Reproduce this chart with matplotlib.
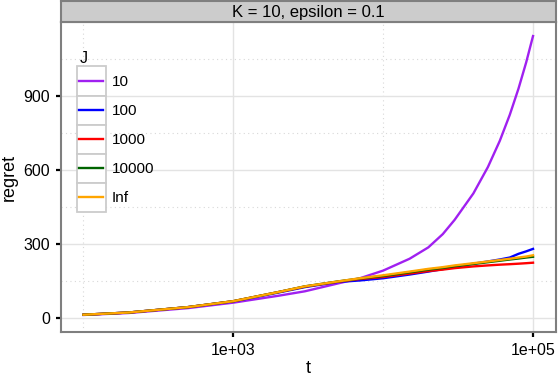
import matplotlib
matplotlib.use("Agg")
import matplotlib.pyplot as plt
from matplotlib.lines import Line2D
from matplotlib.patches import Rectangle
from matplotlib.legend_handler import HandlerLine2D
from matplotlib.ticker import FixedLocator, NullFormatter

plt.rcParams['font.family'] = ['Liberation Sans', 'DejaVu Sans']

# data
t = [100, 200, 500, 1000, 2000, 3000, 5000, 7000, 10000, 15000, 20000, 25000,
     30000, 40000, 50000, 60000, 70000, 80000, 90000, 100000]
regret_10 = [12, 20, 40, 62, 90, 108, 140, 161, 192, 240, 286, 340,
             398, 505, 612, 718, 824, 930, 1036, 1143]
regret_100 = [13, 22, 44, 67, 103, 125, 146, 152, 161, 176, 188, 198,
              208, 220, 229, 237, 245, 260, 270, 280]
regret_1000 = [13, 22, 44, 68, 105, 127, 147, 158, 166, 180, 190, 196,
               202, 209, 213, 216, 218, 220, 222, 224]
regret_10000 = [13, 22, 44, 68, 105, 128, 148, 160, 170, 185, 196, 203,
                210, 219, 226, 232, 237, 241, 245, 248]
regret_inf = [13, 22, 44, 68, 105, 128, 148, 161, 173, 188, 199, 206,
              213, 222, 229, 235, 240, 245, 249, 254]

series = [("10", regret_10, "#A020F0"),
          ("100", regret_100, "#0000FF"),
          ("1000", regret_1000, "#FF0000"),
          ("10000", regret_10000, "#006400"),
          ("Inf", regret_inf, "#FFA500")]

panel_title = "K = 10, epsilon = 0.1"
y_ticks = [0, 300, 600, 900]
y_minor = [150, 450, 750, 1050]
x_ticks = [1e3, 1e5]
x_labels = ["1e+03", "1e+05"]
x_minor = [1e2, 1e4]


class KeyHandler(HandlerLine2D):
    # legend key: grey bordered box with the line centred in it
    def create_artists(self, legend, orig_handle, xdescent, ydescent,
                       width, height, fontsize, trans):
        pad = 1.8
        rect = Rectangle((-xdescent - pad, -ydescent), width + 2 * pad, height,
                         facecolor="white", edgecolor="#CCCCCC", lw=1.3,
                         transform=trans)
        yc = height / 2 - ydescent
        line = Line2D([-xdescent, -xdescent + width], [yc, yc],
                      color=orig_handle.get_color(),
                      lw=orig_handle.get_linewidth(), transform=trans)
        return [rect, line]


fig = plt.figure(figsize=(5.58, 3.76), dpi=100)
ax = fig.add_axes([61 / 558, 1 - 332 / 376, 494.5 / 558, 310 / 376])

for name, vals, col in series:
    ax.plot(t, vals, color=col, lw=1.7, label=name)

ax.set_xscale("log")
ax.set_xlim(10 ** 1.85, 10 ** 5.15)
ax.set_ylim(-57, 1200)

ax.xaxis.set_major_locator(FixedLocator(x_ticks))
ax.set_xticklabels(x_labels)
ax.xaxis.set_minor_locator(FixedLocator(x_minor))
ax.xaxis.set_minor_formatter(NullFormatter())
ax.set_yticks(y_ticks)
ax.yaxis.set_minor_locator(FixedLocator(y_minor))

ax.grid(True, which="major", color="#E3E3E3", lw=1.0)
ax.grid(True, which="minor", color="#D8D8D8", lw=0.8, linestyle=(0, (1, 3)))
ax.set_axisbelow(True)

ax.tick_params(which="major", direction="out", length=3.6, width=1.6,
               color="black", labelsize=11.5, pad=4)
ax.tick_params(axis="y", pad=4.5)
ax.tick_params(which="minor", length=0)
for s in ax.spines.values():
    s.set_color("#7F7F7F")
    s.set_linewidth(1.5)

ax.set_xlabel("t", fontsize=13, labelpad=2)
ax.set_ylabel("regret", fontsize=13, labelpad=4)

# facet strip
strip = fig.add_axes([61 / 558, 1 - 22 / 376, 494.5 / 558, 21 / 376])
strip.set_facecolor("#CCCCCC")
strip.set_xticks([])
strip.set_yticks([])
for s in strip.spines.values():
    s.set_color("#7F7F7F")
    s.set_linewidth(1.5)
strip.text(0.5, 0.45, panel_title, ha="center", va="center", fontsize=12,
           transform=strip.transAxes)

handles = [Line2D([], [], color=col, lw=1.7) for _, _, col in series]
labels = [name for name, _, _ in series]
leg = ax.legend(handles, labels, title="J", loc="upper left",
                bbox_to_anchor=(0.037, 0.905), frameon=False, fontsize=11,
                title_fontsize=11.5, handlelength=1.57, handleheight=2.55,
                labelspacing=0, handletextpad=0.55, borderpad=0,
                borderaxespad=0, alignment="left",
                handler_map={Line2D: KeyHandler()})

fig.savefig("out.png", dpi=100)
